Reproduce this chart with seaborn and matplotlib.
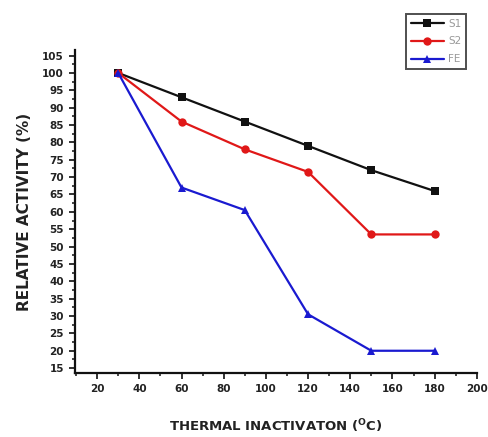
import pandas as pd
import numpy as np
import matplotlib
matplotlib.use("Agg")
import matplotlib.pyplot as plt
from matplotlib.ticker import MultipleLocator
import seaborn as sns

# Data
temperature = [30, 60, 90, 120, 150, 180]
s1_activity = [100, 93, 86, 79, 72, 66]
s2_activity = [100, 86, 78, 71.5, 53.5, 53.5]
fe_activity = [100, 67, 60.5, 30.5, 20, 20]
series_names = ["S1", "S2", "FE"]

df = pd.DataFrame({
    "temp": temperature * 3,
    "activity": s1_activity + s2_activity + fe_activity,
    "sample": [n for n in series_names for _ in temperature],
})

sns.set_style("ticks")
plt.rcParams["font.family"] = ["DejaVu Sans"]
plt.rcParams["mathtext.default"] = "bf"

fig = plt.figure(figsize=(4.88, 4.37), dpi=100)
ax = fig.add_axes([0.1537, 0.1465, 0.8233, 0.739])

palette = {"S1": "#111111", "S2": "#e01818", "FE": "#1a1ad0"}
markers = {"S1": "s", "S2": "o", "FE": "^"}

sns.lineplot(data=df, x="temp", y="activity", hue="sample", style="sample",
             palette=palette, markers=markers, dashes=False, markersize=6,
             markeredgewidth=0, linewidth=1.6, ax=ax, legend=True)

ax.set_xlim(9.5, 200)
ax.set_ylim(13.6, 106.6)
ax.xaxis.set_minor_locator(MultipleLocator(10))
ax.yaxis.set_minor_locator(MultipleLocator(2.5))
ax.set_xticks(np.arange(20, 201, 20))
ax.set_yticks(np.arange(15, 106, 5))
ax.tick_params(axis="both", which="major", length=4, width=1.3, labelsize=7.5,
               colors="#222222", pad=4)
ax.tick_params(axis="both", which="minor", length=2.5, width=1.2)
for lab in ax.get_xticklabels() + ax.get_yticklabels():
    lab.set_fontweight("bold")

sns.despine(ax=ax)
for side in ["left", "bottom"]:
    ax.spines[side].set_linewidth(1.6)
    ax.spines[side].set_color("#111111")

ax.set_xlabel("THERMAL INACTIVATON ($^{O}$C)", fontsize=9.5, fontweight="bold",
              color="#222222", labelpad=17)
ax.set_ylabel("RELATIVE ACTIVITY (%)", fontsize=11, fontweight="bold",
              color="#222222", labelpad=7)

handles, labels = ax.get_legend_handles_labels()
ax.get_legend().remove()
leg = fig.legend(handles, labels, loc="upper left", bbox_to_anchor=(0.832, 0.968),
                 frameon=True, fancybox=False, fontsize=7.5, handlelength=3.2,
                 borderpad=0.45, labelspacing=0.75, handletextpad=0.4,
                 borderaxespad=0)
leg.get_frame().set_edgecolor("#222222")
leg.get_frame().set_linewidth(1.4)
for t in leg.get_texts():
    t.set_color("#999999")

fig.savefig("out.png", dpi=100)
